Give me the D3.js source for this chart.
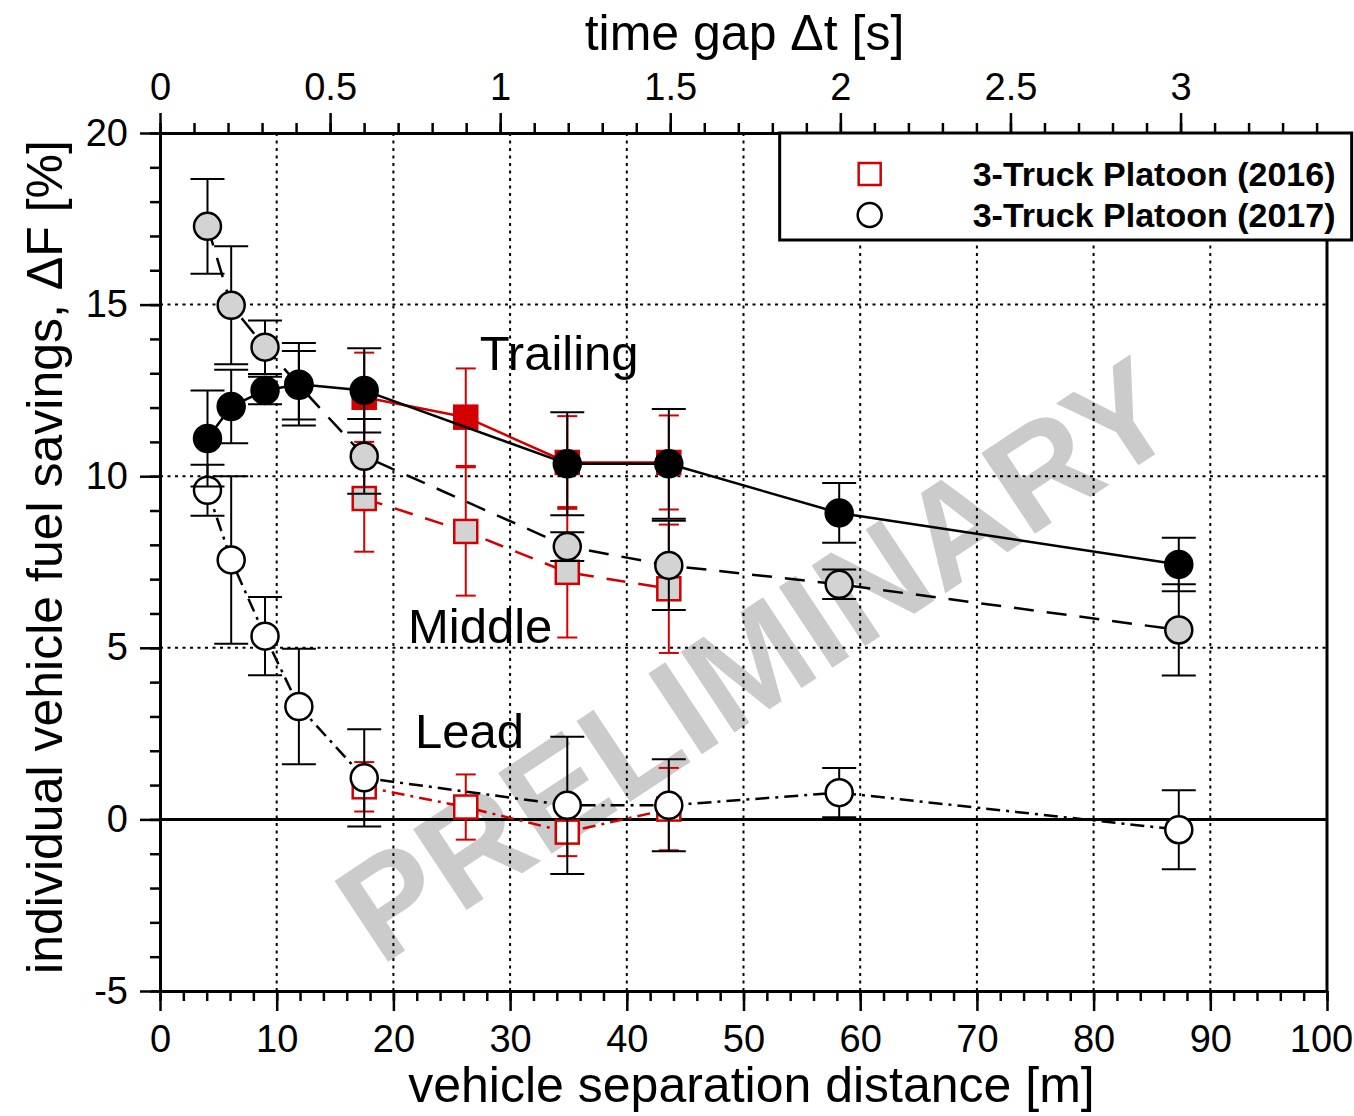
<!DOCTYPE html>
<html>
<head>
<meta charset="utf-8">
<script src="https://cdn.jsdelivr.net/npm/d3@7"></script>
<style>
body { margin: 0; background: #fff; }
svg text { font-family: "Liberation Sans", Arial, Helvetica, sans-serif; fill: #000; }
.axis .domain { stroke: #000; stroke-width: 3; }
.axis .tick line { stroke: #000; stroke-width: 2.5; }
.axis text { font-size: 38px; }
.grid line { stroke: #000; stroke-width: 2; stroke-dasharray: 3, 4.5; }
</style>
</head>
<body>
<div id="graphic"></div>
<script>
// =========================================
// fuel savings vs separation distance, 3-truck platoon
// =========================================

// 2017 runs
var distance2017 = [4.07, 6.1, 9.0, 11.9, 17.5, 34.9, 43.6, 58.2, 87.3];
var trailing2017 = [11.1, 12.03, 12.5, 12.68, 12.5, 10.36, 10.36, 8.93, 7.43];
var trailing2017Err = [1.4, 1.07, 0.4, 1.2, 1.23, 1.5, 1.6, 0.87, 0.78];
var middle2017 = [17.28, 14.98, 13.76, 12.65, 10.58, 7.95, 7.4, 6.85, 5.52];
var middle2017Err = [1.38, 1.72, 0.78, 1.0, 1.09, 0.42, 1.3, 0.43, 1.33];
var lead2017 = [9.59, 7.56, 5.34, 3.29, 1.21, 0.41, 0.41, 0.78, -0.3];
var lead2017Err = [0.74, 2.44, 1.14, 1.68, 1.42, 2.0, 1.34, 0.72, 1.15];

// 2016 runs
var distance2016 = [17.5, 26.2, 34.9, 43.6];
var trailing2016 = [12.3, 11.72, 10.4, 10.4];
var trailing2016Err = [1.3, 1.42, 1.35, 1.37];
var middle2016 = [9.35, 8.39, 7.2, 6.72];
var middle2016Err = [1.55, 1.87, 1.9, 1.87];
var lead2016 = [0.95, 0.36, -0.37, 0.3];
var lead2016Err = [0.72, 0.95, 0.7, 1.2];

// axes
var distanceTicks = [0, 10, 20, 30, 40, 50, 60, 70, 80, 90, 100];
var timeTicks = [0, 0.5, 1, 1.5, 2, 2.5, 3];
var savingsTicks = [-5, 0, 5, 10, 15, 20];
var platoonSpeed = 29.15; // m/s, links the top axis to the bottom one

var legendLabels = ['3-Truck Platoon (2016)', '3-Truck Platoon (2017)'];
var positionLabels = [
	{text: 'Trailing', dist: 27.4, val: 13.08},
	{text: 'Middle', dist: 21.25, val: 5.13},
	{text: 'Lead', dist: 21.85, val: 2.07}
];

renderGraphic({
	container: 'graphic',
	width: 1354,
	height: 1116
});

function renderGraphic(config) {

	var red = '#d40000';
	var grey = '#d3d3d3';

	var margins = {top: 133, right: 27, bottom: 125, left: 160};
	var chartWidth = config.width - margins.left - margins.right;
	var chartHeight = config.height - margins.top - margins.bottom;

	var svg = d3.select('#' + config.container).append('svg')
		.attr('width', config.width)
		.attr('height', config.height)
		.style('display', 'block');

	var chartElement = svg.append('g')
		.attr('transform', 'translate(' + margins.left + ',' + margins.top + ')');

	var x = d3.scaleLinear().domain([0, 100]).range([0, chartWidth]),
		y = d3.scaleLinear().domain([-5, 20]).range([chartHeight, 0]),
		t = d3.scaleLinear().domain([0, 100 / platoonSpeed]).range([0, chartWidth]);

	// watermark
	chartElement.append('text')
		.attr('transform', 'translate(' + (chartWidth * 0.51) + ',' + (chartHeight * 0.612) + ') rotate(-33.5)')
		.attr('text-anchor', 'middle')
		.attr('dy', '0.36em')
		.style('font-size', '141px')
		.style('font-weight', 'bold')
		.style('fill', '#cbcbcb')
		.text('PRELIMINARY');

	// grid
	var grid = chartElement.append('g').attr('class', 'grid');
	grid.selectAll('line.v')
		.data(distanceTicks.slice(1, -1))
		.enter().append('line')
		.attr('class', 'v')
		.attr('x1', function(d) { return x(d); })
		.attr('x2', function(d) { return x(d); })
		.attr('y1', 0)
		.attr('y2', chartHeight);
	grid.selectAll('line.h')
		.data([5, 10, 15])
		.enter().append('line')
		.attr('class', 'h')
		.attr('x1', 0)
		.attr('x2', chartWidth)
		.attr('y1', function(d) { return y(d); })
		.attr('y2', function(d) { return y(d); });

	chartElement.append('line')
		.attr('x1', 0).attr('x2', chartWidth)
		.attr('y1', y(0)).attr('y2', y(0))
		.style('stroke', '#000')
		.style('stroke-width', 3);

	// series, 2016 drawn first so 2017 sits on top
	var series = [
		{dist: distance2016, vals: lead2016, err: lead2016Err, color: red, fill: '#fff', shape: 'square', dash: '13,6,3,6', cap: 10},
		{dist: distance2016, vals: middle2016, err: middle2016Err, color: red, fill: grey, shape: 'square', dash: '19,13', cap: 10},
		{dist: distance2016, vals: trailing2016, err: trailing2016Err, color: red, fill: red, shape: 'square', dash: null, cap: 10},
		{dist: distance2017, vals: lead2017, err: lead2017Err, color: '#000', fill: '#fff', shape: 'circle', dash: '14,6,3,6', cap: 17},
		{dist: distance2017, vals: middle2017, err: middle2017Err, color: '#000', fill: grey, shape: 'circle', dash: '20,13', cap: 17},
		{dist: distance2017, vals: trailing2017, err: trailing2017Err, color: '#000', fill: '#000', shape: 'circle', dash: null, cap: 17}
	];

	var line = d3.line()
		.x(function(d) { return x(d.dist); })
		.y(function(d) { return y(d.val); });

	series.forEach(function(s) {
		var pts = s.dist.map(function(d, i) {
			return {dist: d, val: s.vals[i], err: s.err[i]};
		});
		var g = chartElement.append('g');

		var bars = g.selectAll('g.err')
			.data(pts).enter()
			.append('g')
			.attr('class', 'err')
			.style('stroke', s.color)
			.style('stroke-width', 2);
		bars.append('line')
			.attr('x1', function(d) { return x(d.dist); })
			.attr('x2', function(d) { return x(d.dist); })
			.attr('y1', function(d) { return y(d.val - d.err); })
			.attr('y2', function(d) { return y(d.val + d.err); });
		[-1, 1].forEach(function(sign) {
			bars.append('line')
				.attr('x1', function(d) { return x(d.dist) - s.cap; })
				.attr('x2', function(d) { return x(d.dist) + s.cap; })
				.attr('y1', function(d) { return y(d.val + sign * d.err); })
				.attr('y2', function(d) { return y(d.val + sign * d.err); });
		});

		g.append('path')
			.attr('d', line(pts))
			.style('fill', 'none')
			.style('stroke', s.color)
			.style('stroke-width', 2.5)
			.style('stroke-dasharray', s.dash);

		if (s.shape == 'circle') {
			g.selectAll('circle')
				.data(pts).enter()
				.append('circle')
				.attr('cx', function(d) { return x(d.dist); })
				.attr('cy', function(d) { return y(d.val); })
				.attr('r', 13.5)
				.style('fill', s.fill)
				.style('stroke', s.color)
				.style('stroke-width', 2.5);
		} else {
			g.selectAll('rect')
				.data(pts).enter()
				.append('rect')
				.attr('x', function(d) { return x(d.dist) - 11.5; })
				.attr('y', function(d) { return y(d.val) - 11.5; })
				.attr('width', 23)
				.attr('height', 23)
				.style('fill', s.fill)
				.style('stroke', s.color)
				.style('stroke-width', 2.5);
		}
	});

	// position labels
	chartElement.selectAll('text.pos')
		.data(positionLabels).enter()
		.append('text')
		.attr('class', 'pos')
		.attr('x', function(d) { return x(d.dist); })
		.attr('y', function(d) { return y(d.val); })
		.style('font-size', '49px')
		.text(function(d) { return d.text; });

	// axes: major + minor ticks
	chartElement.append('g')
		.attr('class', 'axis axis-x')
		.attr('transform', 'translate(0,' + chartHeight + ')')
		.call(d3.axisBottom(x).tickValues(d3.range(0, 101, 2)).tickSize(10).tickSizeOuter(0).tickFormat(''));
	var xAxis = chartElement.append('g')
		.attr('class', 'axis axis-x')
		.attr('transform', 'translate(0,' + chartHeight + ')')
		.call(d3.axisBottom(x).tickValues(distanceTicks).tickSize(20).tickSizeOuter(0).tickPadding(14));
	// keep "100" inside the page
	xAxis.selectAll('.tick text')
		.filter(function(d) { return d == 100; })
		.attr('dx', -6);

	chartElement.append('g')
		.attr('class', 'axis axis-t')
		.call(d3.axisTop(t).tickValues(d3.range(0, 3.45, 0.1)).tickSize(10).tickSizeOuter(0).tickFormat(''));
	chartElement.append('g')
		.attr('class', 'axis axis-t')
		.call(d3.axisTop(t).tickValues(timeTicks).tickSize(20).tickSizeOuter(0).tickPadding(13)
			.tickFormat(function(d) { return String(d); }));

	chartElement.append('g')
		.attr('class', 'axis axis-y')
		.call(d3.axisLeft(y).tickValues(d3.range(-5, 21, 1)).tickSize(10).tickSizeOuter(0).tickFormat(''));
	chartElement.append('g')
		.attr('class', 'axis axis-y')
		.call(d3.axisLeft(y).tickValues(savingsTicks).tickSize(20).tickSizeOuter(0).tickPadding(12)
			.tickFormat(function(d) { return String(d); }));

	chartElement.append('line')
		.attr('x1', chartWidth).attr('x2', chartWidth)
		.attr('y1', 0).attr('y2', chartHeight)
		.style('stroke', '#000')
		.style('stroke-width', 3);

	// axis titles
	chartElement.append('text')
		.attr('x', chartWidth / 2 + 8)
		.attr('y', chartHeight + 111)
		.attr('text-anchor', 'middle')
		.style('font-size', '50px')
		.text('vehicle separation distance [m]');

	chartElement.append('text')
		.attr('x', x(50) + 1)
		.attr('y', -83)
		.attr('text-anchor', 'middle')
		.style('font-size', '50px')
		.text('time gap \u0394t [s]');

	chartElement.append('text')
		.attr('transform', 'translate(' + (-98) + ',' + (chartHeight / 2 - 5) + ') rotate(-90)')
		.attr('text-anchor', 'middle')
		.style('font-size', '50px')
		.text('individual vehicle fuel savings, \u0394F [%]');

	// legend
	var legend = chartElement.append('g')
		.attr('transform', 'translate(' + x(53.1) + ',0)');
	legend.append('rect')
		.attr('width', 572)
		.attr('height', 107)
		.style('fill', '#fff')
		.style('stroke', '#000')
		.style('stroke-width', 3);
	legend.append('rect')
		.attr('x', 79).attr('y', 30)
		.attr('width', 22).attr('height', 22)
		.style('fill', '#fff').style('stroke', red).style('stroke-width', 2.5);
	legend.append('circle')
		.attr('cx', 90).attr('cy', 82)
		.attr('r', 12)
		.style('fill', '#fff').style('stroke', '#000').style('stroke-width', 2.5);
	legend.selectAll('text')
		.data(legendLabels).enter()
		.append('text')
		.attr('x', 193)
		.attr('y', function(d, i) { return 41 + i * 41; })
		.attr('dy', '0.36em')
		.style('font-size', '34px')
		.style('font-weight', 'bold')
		.text(function(d) { return d; });

} // end of renderGraphic()
</script>
</body>
</html>
